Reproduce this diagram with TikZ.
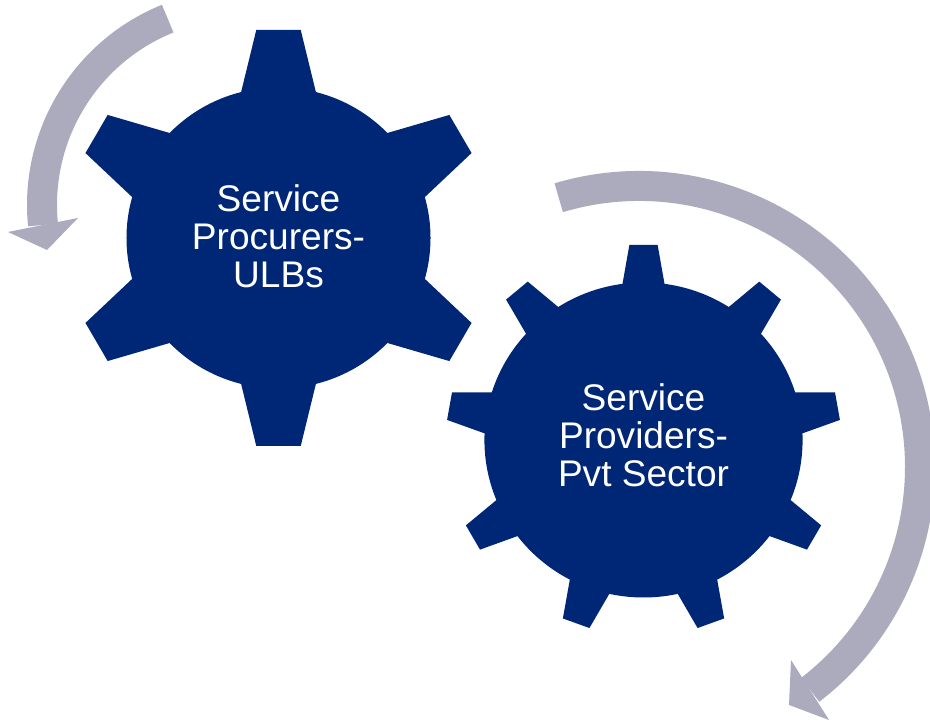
\documentclass[tikz,border=0pt]{standalone}
\usepackage{fontspec}
\setmainfont{Liberation Sans}
\definecolor{gearblue}{HTML}{002776}
\definecolor{arrowgrey}{HTML}{ABABBD}
\tikzset{
    gearfill/.style={fill=gearblue},
    arrowshaft/.style={draw=arrowgrey,line width=22.5pt},
    arrowtip/.style={fill=arrowgrey},
    gearlabel/.style={text=white,align=center,font=\fontsize{27.8}{28.5}\selectfont}
}
\begin{document}
\begin{tikzpicture}[x=0.75pt,y=0.75pt]
    \useasboundingbox (0,0) rectangle (930,724);

    %first gear
    \fill[gearfill,shift={(278.5,486)},xscale=1.01] (0,0) circle (150.5);
    \foreach \ang in {0,60,...,300}{
        \fill[gearfill,shift={(278.5,486)},xscale=1.01,rotate=\ang] (-22,208) -- (22,208) -- (37,146) -- (0,0) -- (-37,146) -- cycle;
    }
    \node[gearlabel] (procurers) at (278.5,488) {Service\\Procurers-\\ULBs};

    %second gear
    \fill[gearfill,shift={(643.5,284)},xscale=1.01] (0,0) circle (157.5);
    \foreach \ang in {0,40,...,320}{
        \fill[gearfill,shift={(643.5,284)},xscale=1.01,rotate=\ang] (-14,195) -- (14,195) -- (21,155) -- (0,0) -- (-21,155) -- cycle;
    }
    \node[gearlabel] (providers) at (643.5,289) {Service\\Providers-\\Pvt Sector};

    %arrow around the first gear
    \draw[arrowshaft] (243,519) ++(112:201) arc[start angle=112,end angle=185.7,radius=201];
    \fill[arrowtip] (8,492) -- (47,474) -- (78,506) -- cycle;

    %arrow around the second gear
    \draw[arrowshaft] (639,257) ++(106.6:281) arc[start angle=106.6,end angle=-52.5,radius=281];
    \fill[arrowtip] (791,64) -- (789,19) -- (829,4) -- cycle;
\end{tikzpicture}
\end{document}
